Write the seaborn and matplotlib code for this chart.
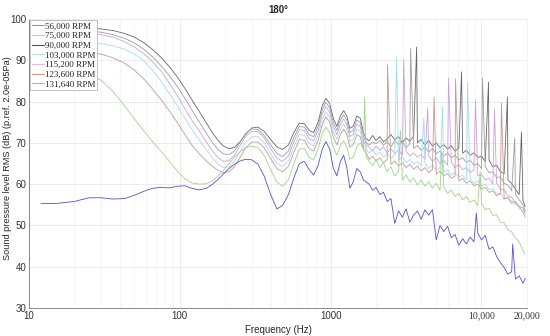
import numpy as np
import pandas as pd
import matplotlib
matplotlib.use("Agg")
import matplotlib.pyplot as plt
from matplotlib.lines import Line2D
from matplotlib.ticker import LogLocator, NullFormatter, FixedLocator
import seaborn as sns

# ---------------------------------------------------------------------------
# Data
# ---------------------------------------------------------------------------

freq_low = [12, 15, 20, 25, 30, 36, 43, 50, 58, 66, 75, 85, 96, 108, 120,
            135, 150, 165, 180, 195, 212, 230, 250, 272, 300, 330, 362, 400,
            440, 480, 525, 570, 620, 670, 720, 770, 825, 880, 930, 985, 1040,
            1100, 1160, 1220, 1280, 1340, 1410, 1490, 1570, 1650, 1720]

freq_high = [1800, 1900, 2000, 2120, 2240, 2370, 2510, 2660, 2820, 2990,
             3160, 3350, 3550, 3760, 3980, 4220, 4470, 4730, 5010, 5310,
             5620, 5960, 6310, 6680, 7080, 7500, 7940, 8410, 8910, 9440,
             10000, 10590, 11220, 11890, 12590, 13340, 14130, 14960, 15850,
             16790, 17780, 18840, 19500]

rpm_labels = ["56,000 RPM", "75,000 RPM", "90,000 RPM", "103,000 RPM",
              "115,200 RPM", "123,600 RPM", "131,640 RPM"]

# 90,000 RPM (top curve)
spl_90000_low = [98.0, 98.0, 97.9, 97.8, 97.6, 97.2, 96.5, 95.6, 94.2, 92.6,
                 90.7, 88.5, 86.0, 83.2, 80.5, 77.5, 74.8, 72.4, 70.5, 69.2,
                 68.6, 68.9, 70.2, 72.0, 73.6, 73.8, 72.8, 70.8, 69.0, 68.4,
                 69.5, 72.5, 74.8, 74.6, 73.0, 72.5, 75.0, 79.0, 80.8, 79.5,
                 76.0, 74.0, 76.5, 77.8, 76.5, 73.5, 74.0, 76.5, 76.0, 72.5,
                 71.0]
spl_90000_high = [70.5, 71.8, 70.6, 71.5, 70.2, 71.0, 72.0, 70.8, 71.5, 70.0,
                  71.2, 70.4, 71.6, 70.0, 70.8, 69.5, 70.6, 69.2, 70.0, 68.8,
                  69.6, 68.5, 69.3, 68.0, 68.8, 67.5, 68.2, 67.0, 67.6, 66.5,
                  66.8, 65.5, 65.8, 64.2, 64.6, 63.0, 62.5, 61.0, 60.2, 58.8,
                  57.5, 56.0, 54.5]
spike_90000_f = [3715, 7375, 11130, 14860, 18400]
spike_90000_db = [93.2, 87.2, 84.7, 81.1, 72.6]

# 56,000 RPM
spl_56000_low = [97.3, 97.3, 97.2, 97.0, 96.8, 96.2, 95.3, 94.2, 92.6, 90.8,
                 88.7, 86.3, 83.7, 80.8, 78.0, 75.0, 72.3, 70.0, 68.3, 67.3,
                 67.2, 68.0, 70.0, 72.2, 73.4, 73.2, 71.8, 69.5, 67.4, 66.7,
                 68.0, 71.3, 74.0, 73.8, 72.0, 71.5, 74.0, 78.0, 79.8, 78.5,
                 75.0, 73.0, 75.5, 76.8, 75.5, 72.5, 73.0, 75.5, 75.0, 71.5,
                 70.0]
spl_56000_high = [69.5, 70.2, 69.8, 70.6, 69.4, 70.3, 69.0, 70.5, 69.6, 70.2,
                  68.8, 69.8, 68.6, 69.4, 68.2, 69.0, 67.8, 68.6, 67.4, 68.0,
                  66.8, 67.6, 66.4, 67.0, 65.8, 66.4, 65.2, 65.8, 64.6, 65.0,
                  63.8, 64.2, 62.8, 63.0, 61.6, 61.8, 60.2, 59.8, 58.4, 57.6,
                  56.2, 55.0, 53.5]
spike_56000_f = [3390, 10160, 16600]
spike_56000_db = [93.0, 85.7, 71.2]

# 115,200 RPM
spl_115200_low = [96.8, 96.8, 96.7, 96.5, 96.2, 95.6, 94.5, 93.2, 91.5, 89.6,
                  87.4, 84.5, 81.5, 78.3, 75.5, 72.8, 70.2, 68.0, 66.3, 65.5,
                  65.7, 67.0, 69.2, 71.5, 72.8, 72.7, 71.2, 68.6, 66.3, 65.5,
                  66.8, 70.2, 73.2, 73.0, 71.0, 70.5, 73.0, 77.0, 78.8, 77.4,
                  74.0, 72.0, 74.5, 75.8, 74.5, 71.5, 72.0, 74.5, 74.0, 70.5,
                  69.5]
spl_115200_high = [69.0, 68.0, 69.2, 68.2, 69.0, 67.6, 68.6, 67.4, 68.3, 67.0,
                   68.0, 66.8, 67.6, 66.5, 67.2, 66.0, 66.8, 65.5, 66.4, 65.0,
                   65.8, 64.6, 65.2, 64.0, 64.8, 63.5, 64.0, 62.8, 63.4, 62.0,
                   62.4, 61.0, 61.5, 60.0, 60.2, 58.8, 58.6, 57.2, 56.8, 55.4,
                   54.6, 53.0, 52.0]
spike_115200_f = [3050, 4400, 6045, 9124, 12190]
spike_115200_db = [90.1, 78.5, 85.7, 80.4, 78.0]

# 103,000 RPM
spl_103000_low = [94.5, 94.5, 94.4, 94.3, 94.0, 93.5, 92.7, 91.5, 89.8, 87.6,
                  85.0, 82.0, 79.0, 76.0, 73.3, 70.6, 68.3, 66.3, 64.8, 64.0,
                  64.2, 65.5, 67.8, 70.1, 71.5, 71.5, 70.0, 67.4, 65.0, 64.3,
                  65.6, 69.0, 72.0, 71.8, 69.8, 69.3, 71.8, 75.8, 77.6, 76.2,
                  72.8, 70.8, 73.3, 74.6, 73.3, 70.3, 70.8, 73.3, 72.8, 69.5,
                  68.5]
spl_103000_high = [67.5, 68.3, 67.0, 67.8, 66.5, 67.4, 66.2, 67.0, 65.8, 66.5,
                   65.2, 66.0, 64.8, 65.5, 64.4, 65.0, 63.8, 64.6, 63.4, 64.0,
                   62.8, 63.5, 62.2, 62.8, 61.6, 62.2, 61.0, 61.5, 60.2, 60.8,
                   59.5, 60.0, 58.6, 59.0, 57.6, 57.8, 56.4, 56.6, 55.2, 55.4,
                   54.0, 53.6, 52.5]
spike_103000_f = [2735, 4150, 5517, 8080]
spike_103000_db = [90.8, 76.0, 78.7, 84.7]

# 75,000 RPM
spl_75000_low = [92.0, 92.0, 91.9, 91.8, 91.5, 90.6, 89.3, 87.6, 85.4, 83.0,
                 80.5, 77.8, 75.0, 72.0, 69.5, 67.3, 65.6, 64.3, 63.3, 62.8,
                 63.0, 64.2, 66.4, 68.7, 70.2, 70.2, 68.8, 66.2, 63.8, 63.0,
                 64.3, 67.7, 70.8, 70.6, 68.6, 68.0, 70.5, 74.5, 76.3, 75.0,
                 71.5, 69.5, 72.0, 73.3, 72.0, 69.0, 69.5, 72.0, 71.5, 68.5,
                 67.5]
spl_75000_high = [66.0, 66.8, 65.6, 66.4, 65.2, 66.0, 64.8, 65.6, 64.4, 65.2,
                  64.0, 64.8, 63.6, 64.4, 63.2, 64.0, 62.8, 63.6, 62.4, 63.2,
                  62.0, 62.6, 61.4, 62.0, 60.8, 61.4, 60.2, 60.8, 59.6, 60.0,
                  58.8, 59.2, 58.0, 58.4, 57.2, 57.6, 56.4, 56.8, 55.6, 55.8,
                  54.6, 54.2, 53.0]
spike_75000_f = [2382, 4850, 6727, 13560]
spike_75000_db = [88.9, 81.1, 85.5, 79.7]

# 123,600 RPM (green)
spl_123600_low = [86.8, 86.8, 86.7, 86.4, 85.2, 82.5, 79.0, 75.8, 72.8, 70.3,
                  68.0, 65.6, 63.2, 61.3, 60.3, 60.0, 60.1, 60.8, 62.0, 63.4,
                  65.0, 66.5, 67.8, 68.8, 69.2, 68.8, 67.0, 63.5, 60.5, 59.5,
                  61.0, 65.0, 68.5, 68.6, 66.5, 65.8, 68.5, 72.3, 73.8, 72.5,
                  69.0, 67.0, 69.3, 70.5, 69.0, 66.0, 66.5, 69.0, 70.0, 68.5,
                  66.5]
spl_123600_high = [65.5, 64.5, 66.0, 64.0, 65.2, 63.0, 64.2, 62.0, 63.0, 61.0,
                   62.2, 60.5, 61.5, 59.8, 61.0, 59.5, 60.6, 59.0, 60.2, 58.5,
                   59.4, 57.8, 58.6, 57.0, 57.8, 56.2, 57.0, 55.6, 56.2, 54.8,
                   55.4, 53.8, 54.2, 52.4, 52.6, 50.8, 50.6, 49.0, 48.4, 47.0,
                   46.0, 44.0, 43.0]
spike_123600_f = [1680, 2900, 5450, 9800]
spike_123600_db = [81.1, 73.0, 68.0, 63.0]

# 131,640 RPM (blue)
spl_131640_low = [55.3, 55.3, 55.8, 56.7, 56.7, 56.4, 56.5, 57.3, 58.3, 59.0,
                  59.2, 59.1, 59.5, 59.6, 59.0, 58.6, 59.0, 60.0, 61.2, 62.5,
                  63.8, 64.8, 65.6, 66.0, 65.9, 64.8, 62.0, 57.5, 54.0, 54.8,
                  57.5, 61.5, 65.0, 65.5, 63.5, 62.2, 64.5, 68.5, 70.3, 68.5,
                  64.0, 62.0, 65.5, 67.0, 64.0, 59.0, 60.5, 63.8, 63.0, 61.0,
                  60.5]
spl_131640_high = [60.0, 58.5, 59.2, 57.5, 58.0, 55.8, 56.5, 50.5, 53.5, 52.0,
                   54.0, 50.8, 52.5, 53.5, 51.5, 53.8, 52.5, 53.8, 46.5, 50.0,
                   48.5, 49.8, 47.0, 47.8, 45.2, 46.8, 45.5, 47.2, 46.0, 48.2,
                   46.5, 47.6, 44.2, 44.8, 42.5, 41.0, 39.8, 38.2, 38.8, 37.0,
                   37.8, 36.0, 37.2]
spike_131640_f = [9250, 16100]
spike_131640_db = [53.0, 45.5]

# curve colours and the (washed out) legend colours
curve_colors = {
    "56,000 RPM": "#a49c9c",
    "75,000 RPM": "#c29a90",
    "90,000 RPM": "#66666e",
    "103,000 RPM": "#a6dbea",
    "115,200 RPM": "#c8a2e0",
    "123,600 RPM": "#9fd48a",
    "131,640 RPM": "#5252cc",
}
legend_colors = ["#9a94b0", "#f0b8a0", "#505050", "#b8dde6",
                 "#e8b8e0", "#c8a078", "#a8b4d8"]

# ---------------------------------------------------------------------------
# Long table for seaborn
# ---------------------------------------------------------------------------

series = [
    ("90,000 RPM", spl_90000_low, spl_90000_high, spike_90000_f, spike_90000_db),
    ("56,000 RPM", spl_56000_low, spl_56000_high, spike_56000_f, spike_56000_db),
    ("115,200 RPM", spl_115200_low, spl_115200_high, spike_115200_f, spike_115200_db),
    ("103,000 RPM", spl_103000_low, spl_103000_high, spike_103000_f, spike_103000_db),
    ("75,000 RPM", spl_75000_low, spl_75000_high, spike_75000_f, spike_75000_db),
    ("123,600 RPM", spl_123600_low, spl_123600_high, spike_123600_f, spike_123600_db),
    ("131,640 RPM", spl_131640_low, spl_131640_high, spike_131640_f, spike_131640_db),
]

frames = []
for name, low, high, sf, sdb in series:
    f = list(freq_low) + list(freq_high) + list(sf)
    v = list(low) + list(high) + list(sdb)
    part = pd.DataFrame({"freq": f, "spl": v})
    part["rpm"] = name
    frames.append(part.sort_values("freq"))
df = pd.concat(frames, ignore_index=True)

# ---------------------------------------------------------------------------
# Plot
# ---------------------------------------------------------------------------

sns.set_theme(style="whitegrid")
plt.rcParams["font.family"] = ["Liberation Sans", "DejaVu Sans"]

fig, ax = plt.subplots(figsize=(5.5, 3.36), dpi=100)
fig.subplots_adjust(left=0.0527, right=0.958, bottom=0.0833, top=0.9435)

sns.lineplot(
    data=df, x="freq", y="spl", hue="rpm",
    hue_order=[s[0] for s in series],
    palette=curve_colors, linewidth=0.6,
    estimator=None, sort=True, legend=False, ax=ax
)

ax.set_xscale("log")
ax.set_xlim(10, 20000)
ax.set_ylim(30, 100)

ax.xaxis.set_major_locator(FixedLocator([10, 100, 1000, 10000, 20000]))
ax.set_xticklabels(["10", "100", "1000", "10,000", "20,000"])
for lab in ax.get_xticklabels()[3:]:
    lab.set_family(["Liberation Serif", "DejaVu Serif"])
ax.xaxis.set_minor_locator(LogLocator(base=10, subs=range(2, 10), numticks=20))
ax.xaxis.set_minor_formatter(NullFormatter())
ax.set_yticks(range(30, 101, 10))

ax.tick_params(axis="both", which="major", labelsize=7, colors="#333333",
               direction="in", length=3, width=0.5, pad=2)
ax.tick_params(axis="x", which="minor", direction="in", length=1.5,
               width=0.4, color="#555555")

ax.grid(which="major", color="#e4e4e4", linewidth=0.5)
ax.grid(which="minor", axis="x", color="#eeeeee", linewidth=0.4)
ax.set_axisbelow(True)

for side in ["left", "bottom"]:
    ax.spines[side].set_color("#777777")
    ax.spines[side].set_linewidth(0.6)
for side in ["top", "right"]:
    ax.spines[side].set_color("#eeeeee")
    ax.spines[side].set_linewidth(0.5)

ax.set_title("180°", fontsize=7, fontweight="bold", pad=4)
ax.set_xlabel("Frequency (Hz)", fontsize=7, labelpad=3)
ax.set_ylabel("Sound pressure level RMS (dB) (p.ref. 2.0e-05Pa)", fontsize=6.6)
ax.yaxis.set_label_coords(-0.034, 0.52)

handles = [Line2D([0], [0], color=c, linewidth=0.8) for c in legend_colors]
leg = ax.legend(
    handles, rpm_labels, loc="upper left",
    prop={"family": ["Liberation Serif", "DejaVu Serif"], "size": 6.5},
    handlelength=1.3, handletextpad=0.1, labelspacing=0.15,
    borderpad=0.2, borderaxespad=0.15, fancybox=False, framealpha=1.0
)
leg.get_frame().set_edgecolor("#aaaaaa")
leg.get_frame().set_linewidth(0.5)

plt.savefig("out.png", dpi=100)
